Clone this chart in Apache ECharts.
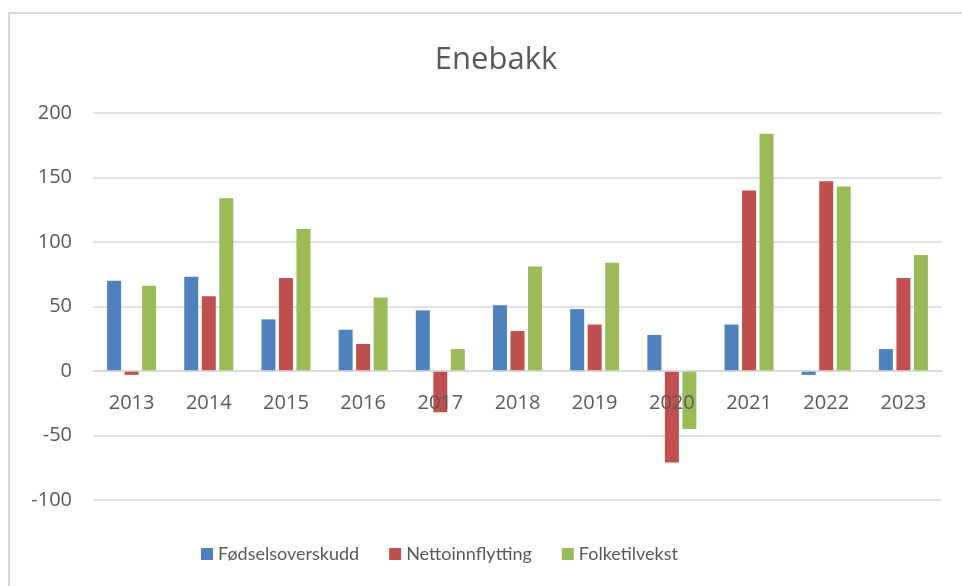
<!DOCTYPE html>
<html>
<head>
<meta charset="utf-8">
<script src="https://cdn.jsdelivr.net/npm/echarts@6/dist/echarts.min.js"></script>
<style>
  html, body { margin: 0; padding: 0; background: #fff; }
  #frame {
    position: absolute; left: 8px; top: 12px; width: 960px; height: 580px;
    border-top: 2px solid #d9d9d9; border-left: 2px solid #d9d9d9;
  }
  #chart { position: absolute; left: 0; top: 0; width: 962px; height: 586px; }
</style>
</head>
<body>
<div id="frame"></div>
<div id="chart"></div>
<script>
// years and values
const years = ['2013', '2014', '2015', '2016', '2017', '2018', '2019', '2020', '2021', '2022', '2023'];
const fodselsoverskudd = [70, 73, 40, 32, 47, 51, 48, 28, 36, -3, 17];
const nettoinnflytting = [-3, 58, 72, 21, -32, 31, 36, -71, 140, 147, 72];
const folketilvekst = [66, 134, 110, 57, 17, 81, 84, -45, 184, 143, 90];
const seriesNames = ['Fødselsoverskudd', 'Nettoinnflytting', 'Folketilvekst'];

const textColor = '#595959';
const font = 'Open Sans';

const chart = echarts.init(document.getElementById('chart'));

function bar(name, data, color) {
  return {
    name: name,
    type: 'bar',
    data: data,
    barWidth: 14,
    barGap: '25%',
    itemStyle: { color: color }
  };
}

const option = {
  animation: false,
  title: {
    text: 'Enebakk',
    left: 491,
    textAlign: 'center',
    top: 40,
    textStyle: { color: textColor, fontFamily: font, fontSize: 31, fontWeight: 'normal' }
  },
  legend: {
    data: seriesNames,
    left: 196,
    top: 540,
    icon: 'rect',
    itemWidth: 12,
    itemHeight: 12,
    itemGap: 30,
    textStyle: { color: textColor, fontFamily: 'Lato', fontSize: 18 }
  },
  grid: { left: 93, right: 20, top: 113, bottom: 86 },
  xAxis: {
    type: 'category',
    data: years,
    // the category axis sits on the zero line (0 is 129px above the grid bottom)
    offset: -129,
    z: 5,
    axisLine: { lineStyle: { color: '#d9d9d9', width: 1.5 } },
    axisTick: { show: false },
    axisLabel: { color: textColor, fontFamily: font, fontSize: 20, margin: 22 }
  },
  yAxis: {
    type: 'value',
    min: -100,
    max: 200,
    interval: 50,
    axisLine: { show: false },
    axisTick: { show: false },
    axisLabel: { color: textColor, fontFamily: font, fontSize: 20, margin: 21 },
    splitLine: { lineStyle: { color: '#d9d9d9', width: 1.5 } }
  },
  series: [
    bar(seriesNames[0], fodselsoverskudd, '#4f81bd'),
    bar(seriesNames[1], nettoinnflytting, '#c0504d'),
    bar(seriesNames[2], folketilvekst, '#9bbb59')
  ]
};

chart.setOption(option);
</script>
</body>
</html>
